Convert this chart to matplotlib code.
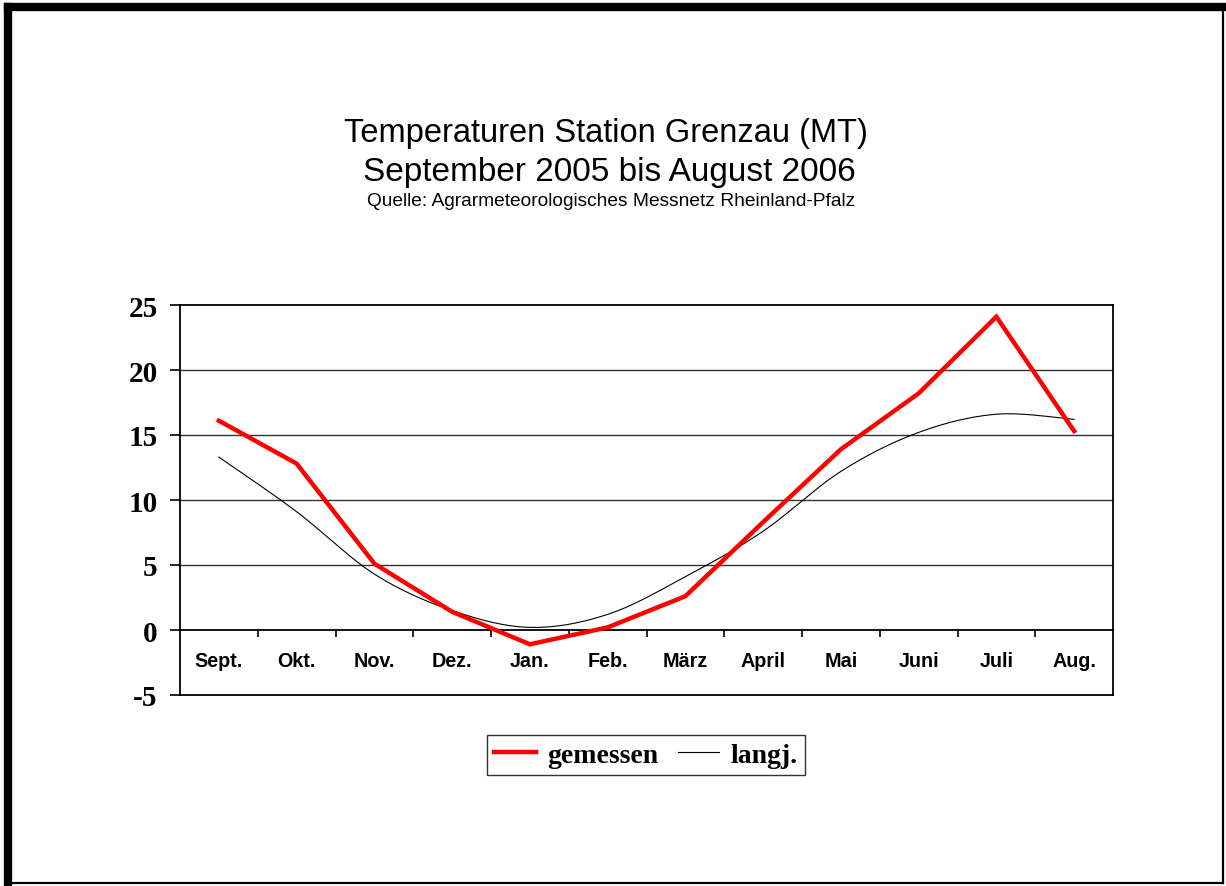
import matplotlib.pyplot as plt
import numpy as np
from matplotlib.lines import Line2D

months = ['Sept.', 'Okt.', 'Nov.', 'Dez.', 'Jan.', 'Feb.', 'März',
          'April', 'Mai', 'Juni', 'Juli', 'Aug.']
gemessen = [16.1, 12.8, 5.1, 1.4, -1.1, 0.2, 2.6, 8.3, 13.9, 18.2, 24.1, 15.3]
langj = [13.3, 9.1, 4.3, 1.5, 0.2, 1.2, 4.1, 7.6, 12.2, 15.2, 16.6, 16.2]
yticks = [-5, 0, 5, 10, 15, 20, 25]


def smooth(x, y, n=20):
    # catmull-rom style smoothing like the spreadsheet "smoothed line"
    x = np.asarray(x, float)
    y = np.asarray(y, float)
    px = np.concatenate([[x[0]], x, [x[-1]]])
    py = np.concatenate([[y[0]], y, [y[-1]]])
    xs, ys = [], []
    for i in range(1, len(px) - 2):
        p0, p1, p2, p3 = (np.array([px[j], py[j]]) for j in range(i - 1, i + 3))
        c1 = p1 + (p2 - p0) / 6
        c2 = p2 - (p3 - p1) / 6
        t = np.linspace(0, 1, n)[:, None]
        b = (1 - t) ** 3 * p1 + 3 * (1 - t) ** 2 * t * c1 + 3 * (1 - t) * t ** 2 * c2 + t ** 3 * p2
        xs.extend(b[:, 0])
        ys.extend(b[:, 1])
    return xs, ys


fig = plt.figure(figsize=(12.26, 8.87), dpi=100)
W, H = 1226, 887
ax = fig.add_axes([180 / W, 1 - 696 / H, (1113 - 180) / W, (696 - 306) / H])

x = np.arange(len(months))
ax.plot(x, gemessen, color='#ff0000', lw=3.2, label='gemessen', solid_joinstyle='miter', zorder=4)
sx, sy = smooth(x, langj)
ax.plot(sx, sy, color='black', lw=0.8, label='langj.', zorder=3)

ax.set_xlim(-0.5, len(months) - 0.5)
ax.set_ylim(-5, 25)

for v in yticks[2:-1]:
    ax.axhline(v, color='#333333', lw=1.0, zorder=1)
ax.axhline(-5, color='black', lw=1.3, zorder=2, clip_on=False)

ax.spines['bottom'].set_position(('data', 0))
for s in ax.spines.values():
    s.set_linewidth(1.3)
    s.set_color('black')

ax.set_yticks(yticks)
ax.set_yticklabels([str(v) for v in yticks], fontfamily='Liberation Serif',
                   fontweight='bold', fontsize=21)
ax.tick_params(axis='y', direction='out', length=7, width=1.2, pad=9)

ax.set_xticks(x)
ax.set_xticklabels(months, fontfamily='Liberation Sans', fontweight='bold', fontsize=14.2)
ax.set_xticks(x[:-1] + 0.5, minor=True)
ax.tick_params(axis='x', which='major', length=0, pad=15)
ax.tick_params(axis='x', which='minor', direction='out', length=5, width=1.2)

fig.text(606 / W, 1 - 142 / H, 'Temperaturen Station Grenzau (MT)', ha='center', va='baseline',
         fontfamily='Liberation Sans', fontsize=23.5)
fig.text(609 / W, 1 - 181 / H, 'September 2005 bis August 2006', ha='center', va='baseline',
         fontfamily='Liberation Sans', fontsize=24)
fig.text(611 / W, 1 - 206 / H, 'Quelle: Agrarmeteorologisches Messnetz Rheinland-Pfalz', ha='center',
         va='baseline', fontfamily='Liberation Sans', fontsize=13.8)

leg = fig.legend(loc='center', bbox_to_anchor=(646 / W, 1 - 756 / H), ncol=2, frameon=True,
                 fancybox=False, edgecolor='black', handlelength=1.5, columnspacing=0.7,
                 handletextpad=0.4, borderpad=0.25,
                 prop={'family': 'Liberation Serif', 'weight': 'bold', 'size': 20})
leg.get_frame().set_linewidth(1.0)


# outer border
def fline(xs, ys, lw):
    fig.add_artist(Line2D([v / W for v in xs], [1 - v / H for v in ys], color='black', lw=lw,
                          transform=fig.transFigure, solid_capstyle='projecting'))


fline([8, 1222], [8, 8], 6)
fline([8, 8], [8, 884], 6)
fline([1223, 1223], [8, 884], 1.6)
fline([8, 1223], [884, 884], 1.6)

fig.savefig('out.png', dpi=100)
